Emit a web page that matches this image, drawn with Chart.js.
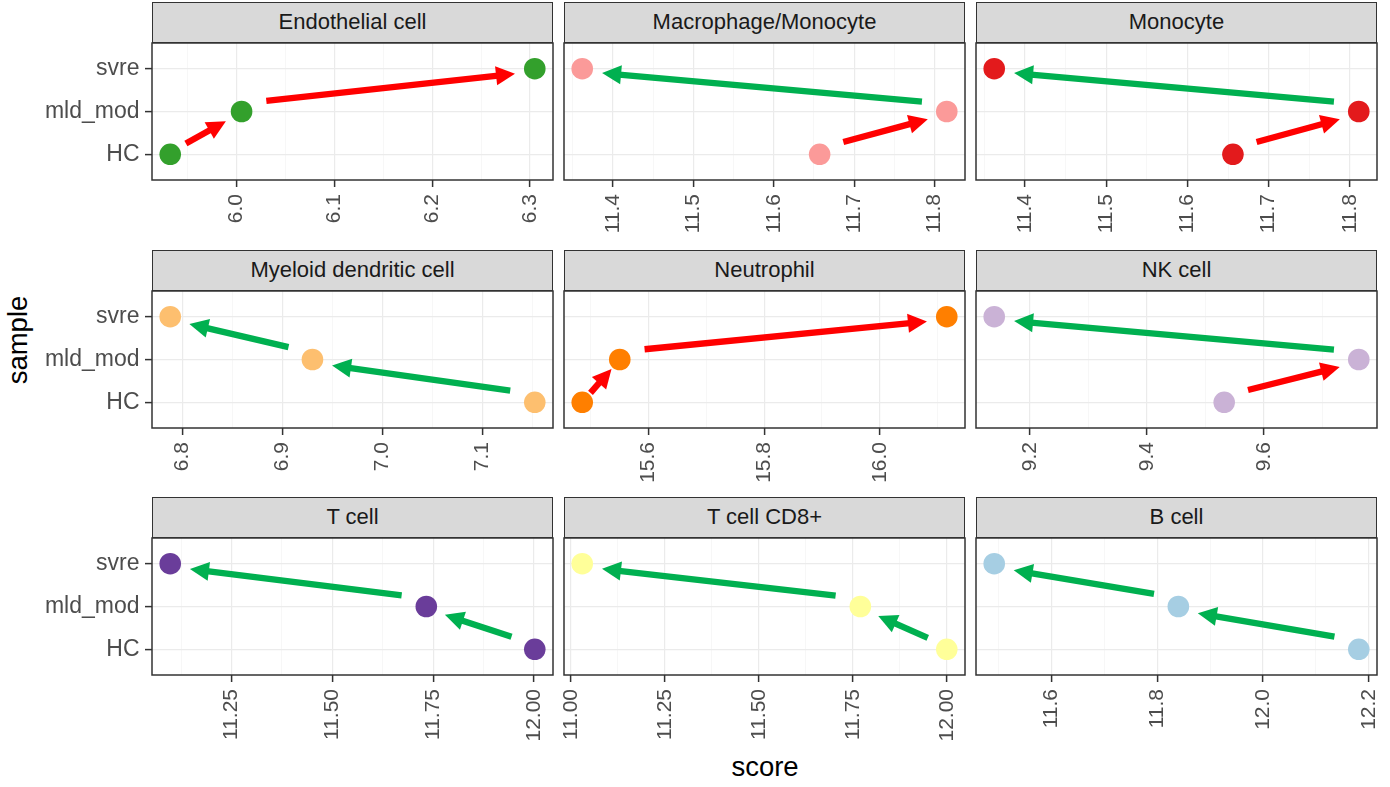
<!DOCTYPE html>
<html>
<head>
<meta charset="utf-8">
<script src="https://cdn.jsdelivr.net/npm/chart.js@4.4.1/dist/chart.umd.min.js"></script>
<style>
  html, body { margin: 0; padding: 0; background: #fff; }
  body { width: 1390px; height: 787px; position: relative; overflow: hidden; font-family: "Liberation Sans", Arial, sans-serif; }
  .strip { position: absolute; box-sizing: border-box; background: #D9D9D9; border: 1.5px solid #333; color: #1A1A1A; font-size: 22px; text-align: center; line-height: 38px; }
  .panel { position: absolute; }
  .axtitle { position: absolute; font-size: 27.5px; color: #000; white-space: nowrap; transform: translate(-50%, -50%); }
  #ytitle { left: 18px; top: 340px; transform: translate(-50%, -50%) rotate(-90deg); }
  #xtitle { left: 765px; top: 767px; }
</style>
</head>
<body>
<div class="axtitle" id="ytitle">sample</div>
<div class="axtitle" id="xtitle">score</div>
<script>
// facet panels, in reading order
var cellTypes = ['Endothelial cell', 'Macrophage/Monocyte', 'Monocyte',
                 'Myeloid dendritic cell', 'Neutrophil', 'NK cell',
                 'T cell', 'T cell CD8+', 'B cell'];
var samples = ['HC', 'mld_mod', 'svre'];

// score per sample group
var hcScores   = [5.932, 11.657, 11.656, 7.152, 15.485, 9.532, 12.002, 12.000, 12.181];
var mldScores  = [6.005, 11.815, 11.811, 6.930, 15.550, 9.762, 11.733, 11.770, 11.840];
var svreScores = [6.305, 11.362, 11.362, 6.788, 16.116, 9.139, 11.098, 11.030, 11.492];

var pointColors = ['#33A02C', '#FB9A99', '#E31A1C', '#FDBF6F', '#FF7F00',
                   '#CAB2D6', '#6A3D9A', '#FFFF99', '#A6CEE3'];

var tickValues = [
  [6.0, 6.1, 6.2, 6.3],
  [11.4, 11.5, 11.6, 11.7, 11.8],
  [11.4, 11.5, 11.6, 11.7, 11.8],
  [6.8, 6.9, 7.0, 7.1],
  [15.6, 15.8, 16.0],
  [9.2, 9.4, 9.6],
  [11.25, 11.50, 11.75, 12.00],
  [11.00, 11.25, 11.50, 11.75, 12.00],
  [11.6, 11.8, 12.0, 12.2]
];
var tickLabels = [
  ['6.0', '6.1', '6.2', '6.3'],
  ['11.4', '11.5', '11.6', '11.7', '11.8'],
  ['11.4', '11.5', '11.6', '11.7', '11.8'],
  ['6.8', '6.9', '7.0', '7.1'],
  ['15.6', '15.8', '16.0'],
  ['9.2', '9.4', '9.6'],
  ['11.25', '11.50', '11.75', '12.00'],
  ['11.00', '11.25', '11.50', '11.75', '12.00'],
  ['11.6', '11.8', '12.0', '12.2']
];

var upColor = '#FF0000';
var downColor = '#00B050';

// layout of the facet grid (px)
var colLeft = [152, 564, 976];
var rowTop = [2, 250, 497];
var panelW = 401, stripH = 41, plotH = 137, xAxisH = 90, yAxisW = 152;
var fontFam = '"Liberation Sans", Arial, sans-serif';

function drawArrow(ctx, sx, sy, ex, ey, color) {
  var dx = ex - sx, dy = ey - sy;
  var len = Math.sqrt(dx * dx + dy * dy);
  var ux = dx / len, uy = dy / len;
  var headL = Math.min(19, len * 0.6), headW = 9.5;
  var bx = ex - ux * headL, by = ey - uy * headL;
  ctx.save();
  ctx.strokeStyle = color;
  ctx.fillStyle = color;
  ctx.lineWidth = 6.3;
  ctx.lineCap = 'butt';
  ctx.beginPath();
  ctx.moveTo(sx, sy);
  ctx.lineTo(bx + ux * 2, by + uy * 2);
  ctx.stroke();
  ctx.beginPath();
  ctx.moveTo(ex, ey);
  ctx.lineTo(bx - uy * headW, by + ux * headW);
  ctx.lineTo(bx + uy * headW, by - ux * headW);
  ctx.closePath();
  ctx.fill();
  ctx.restore();
}

var arrowPlugin = {
  id: 'arrows',
  afterDatasetsDraw: function(chart) {
    var i = chart.options.plugins.arrows.panel;
    var xs = chart.scales.x, ys = chart.scales.y;
    var pts = [hcScores[i], mldScores[i], svreScores[i]];
    for (var k = 0; k < 2; k++) {
      var x1 = xs.getPixelForValue(pts[k]), y1 = ys.getPixelForValue(k + 1);
      var x2 = xs.getPixelForValue(pts[k + 1]), y2 = ys.getPixelForValue(k + 2);
      var color = pts[k + 1] > pts[k] ? upColor : downColor;
      var dx = x2 - x1, dy = y2 - y1;
      var len = Math.sqrt(dx * dx + dy * dy);
      var ux = dx / len, uy = dy / len;
      var cutA = Math.min(25, len * 0.22), cutB = Math.min(20, len * 0.22);
      var lift = 7 * Math.max(0, Math.min(1, (len - 60) / 120));
      drawArrow(chart.ctx,
        x1 + ux * cutA, y1 + uy * cutA - lift,
        x2 - ux * cutB, y2 - uy * cutB + lift * 0.3,
        color);
    }
  }
};

var borderPlugin = {
  id: 'panelBorder',
  afterDraw: function(chart) {
    var a = chart.chartArea, ctx = chart.ctx;
    ctx.save();
    ctx.strokeStyle = '#333333';
    ctx.lineWidth = 1.5;
    ctx.strokeRect(a.left, a.top, a.right - a.left, a.bottom - a.top);
    ctx.restore();
  }
};

function makePanel(i) {
  var col = i % 3, row = Math.floor(i / 3);
  var first = col === 0;
  var left = colLeft[col], top = rowTop[row];

  var strip = document.createElement('div');
  strip.className = 'strip';
  strip.style.left = left + 'px';
  strip.style.top = top + 'px';
  strip.style.width = panelW + 'px';
  strip.style.height = stripH + 'px';
  strip.textContent = cellTypes[i];
  document.body.appendChild(strip);

  var vals = [hcScores[i], mldScores[i], svreScores[i]];
  var lo = Math.min.apply(null, vals), hi = Math.max.apply(null, vals);
  var pad = (hi - lo) * 0.05;
  var xmin = lo - pad, xmax = hi + pad;

  var major = tickValues[i];
  var step = major[1] - major[0];
  var tickObjs = [];
  major.forEach(function(v, j) { tickObjs.push({ value: v, mj: true, txt: tickLabels[i][j] }); });
  for (var m = major[0] - step / 2; m <= xmax; m += step) {
    if (m >= xmin) tickObjs.push({ value: m, mj: false, txt: '' });
  }
  tickObjs.sort(function(a, b) { return a.value - b.value; });

  var cLeft = first ? 0 : left - 2;
  var cWidth = left + panelW + 2 - cLeft;
  var cTop = top + stripH - 2;
  var cHeight = 2 + plotH + xAxisH;

  var wrap = document.createElement('div');
  wrap.className = 'panel';
  wrap.style.left = cLeft + 'px';
  wrap.style.top = cTop + 'px';
  var canvas = document.createElement('canvas');
  canvas.width = cWidth;
  canvas.height = cHeight;
  canvas.style.width = cWidth + 'px';
  canvas.style.height = cHeight + 'px';
  wrap.appendChild(canvas);
  document.body.appendChild(wrap);

  new Chart(canvas, {
    type: 'scatter',
    data: {
      datasets: [{
        data: [
          { x: hcScores[i], y: 1 },
          { x: mldScores[i], y: 2 },
          { x: svreScores[i], y: 3 }
        ],
        pointRadius: 10.8,
        pointHoverRadius: 10.8,
        pointBackgroundColor: pointColors[i],
        pointBorderWidth: 0,
        clip: false
      }]
    },
    options: {
      responsive: false,
      animation: false,
      events: [],
      layout: { autoPadding: false, padding: { left: first ? 0 : 2, right: 2, top: 2, bottom: 0 } },
      plugins: {
        legend: { display: false },
        tooltip: { enabled: false },
        arrows: { panel: i }
      },
      scales: {
        x: {
          type: 'linear', min: xmin, max: xmax, bounds: 'data',
          afterBuildTicks: function(s) { s.ticks = tickObjs; },
          afterFit: function(s) { s.height = xAxisH; s.paddingLeft = 0; s.paddingRight = 0; },
          ticks: {
            autoSkip: false, minRotation: 90, maxRotation: 90, padding: 7,
            color: '#4D4D4D', font: { family: fontFam, size: 21 },
            callback: function(v, idx) { return tickObjs[idx] ? tickObjs[idx].txt : ''; }
          },
          grid: {
            color: function(c) { return c.tick && c.tick.mj ? '#EBEBEB' : '#F3F3F3'; },
            lineWidth: function(c) { return c.tick && c.tick.mj ? 1.2 : 0.7; },
            tickLength: 7,
            tickWidth: 1.5,
            tickColor: function(c) { return c.tick && c.tick.mj ? '#333333' : 'rgba(0,0,0,0)'; }
          },
          border: { display: false }
        },
        y: {
          type: 'linear', min: 0.4, max: 3.6, bounds: 'data',
          afterBuildTicks: function(s) { s.ticks = [{ value: 1 }, { value: 2 }, { value: 3 }]; },
          afterFit: function(s) { s.width = first ? yAxisW : 0; s.paddingTop = 0; s.paddingBottom = 0; },
          ticks: {
            display: first, padding: 5.5,
            color: '#4D4D4D', font: { family: fontFam, size: 23 },
            callback: function(v) { return samples[Math.round(v) - 1]; }
          },
          grid: {
            color: '#EBEBEB', lineWidth: 1.2,
            drawTicks: first, tickLength: 7, tickWidth: 1.5, tickColor: '#333333'
          },
          border: { display: false }
        }
      }
    },
    plugins: [arrowPlugin, borderPlugin]
  });
}

for (var p = 0; p < cellTypes.length; p++) makePanel(p);
</script>
</body>
</html>
